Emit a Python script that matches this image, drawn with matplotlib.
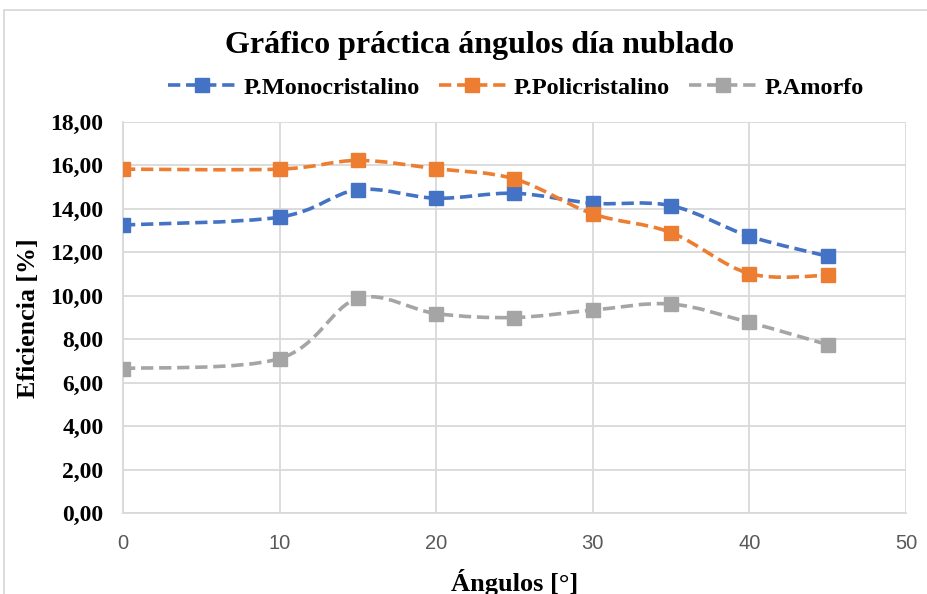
import numpy as np
import matplotlib
matplotlib.use("Agg")
import matplotlib.pyplot as plt
from matplotlib.path import Path
from matplotlib.patches import PathPatch, Rectangle
from matplotlib.lines import Line2D

angles = [0, 10, 15, 20, 25, 30, 35, 40, 45]
mono = [13.26, 13.62, 14.88, 14.49, 14.72, 14.26, 14.15, 12.74, 11.82]
poli = [15.83, 15.83, 16.23, 15.85, 15.38, 13.77, 12.91, 11.02, 10.94]
amorfo = [6.65, 7.11, 9.88, 9.18, 9.00, 9.34, 9.62, 8.77, 7.75]
series_names = ["P.Monocristalino", "P.Policristalino", "P.Amorfo"]
colors = ["#4472C4", "#ED7D31", "#A5A5A5"]

title = "Gráfico práctica ángulos día nublado"
xlabel = "Ángulos [°]"
ylabel = "Eficiencia [%]"

serif = ["Liberation Serif", "DejaVu Serif"]

fig = plt.figure(figsize=(9.28, 5.94), dpi=100)
ax = fig.add_axes([123/928, 1-513/594, (906-123)/928, (513-122)/594])

def smooth_path(x, y):
    x = np.asarray(x, float); y = np.asarray(y, float)
    n = len(x)
    verts = [(x[0], y[0])]
    codes = [Path.MOVETO]
    for i in range(n-1):
        i0 = max(i-1, 0); i3 = min(i+2, n-1)
        c1 = (x[i] + (x[i+1]-x[i0])/6, y[i] + (y[i+1]-y[i0])/6)
        c2 = (x[i+1] - (x[i3]-x[i])/6, y[i+1] - (y[i3]-y[i])/6)
        verts += [c1, c2, (x[i+1], y[i+1])]
        codes += [Path.CURVE4]*3
    return Path(verts, codes)

dash = (0, (3.4, 1.6))
handles = []
for vals, c, name in zip([mono, poli, amorfo], colors, series_names):
    p = PathPatch(smooth_path(angles, vals), facecolor="none", edgecolor=c,
                  lw=2.6, linestyle=dash, zorder=3, capstyle="butt")
    ax.add_patch(p)
    ax.plot(angles, vals, linestyle="none", marker="s", ms=10, color=c,
            mec=c, zorder=4)
    handles.append(Line2D([], [], color=c, lw=2.6, linestyle=dash, marker="s",
                          ms=10, mec=c))

ax.set_xlim(0, 50)
ax.set_ylim(0, 18)
ax.set_xticks(range(0, 51, 10))
ax.set_yticks(np.arange(0, 18.1, 2))
ax.set_yticklabels([f"{v:.2f}".replace(".", ",") for v in np.arange(0, 18.1, 2)],
                   fontfamily=serif, fontweight="bold", fontsize=17)
ax.set_xticklabels([str(v) for v in range(0, 51, 10)], fontfamily="Liberation Sans",
                   fontsize=14.5, color="#595959")
ax.tick_params(axis="both", length=0)
ax.tick_params(axis="y", pad=14)
ax.tick_params(axis="x", pad=15)
ax.grid(True, color="#D9D9D9", lw=1.3)
ax.set_axisbelow(True)
for s in ["top", "right"]:
    ax.spines[s].set_visible(False)
for s in ["left", "bottom"]:
    ax.spines[s].set_color("#D9D9D9")
    ax.spines[s].set_linewidth(1.3)

fig.text(515/928, 1-582/594, xlabel, ha="center", va="center", fontfamily=serif,
         fontweight="bold", fontsize=19)
fig.text(29/928, 1-318/594, ylabel, ha="center", va="center", rotation=90,
         fontfamily=serif, fontweight="bold", fontsize=18.7)
fig.text(0.517, 1-45/594, title, ha="center", va="center", fontfamily=serif,
         fontweight="bold", fontsize=23)
fig.legend(handles, series_names, loc="center", bbox_to_anchor=(0.556, 1-88/594),
           ncol=3, frameon=False, prop=dict(family=serif, weight="bold", size=17.5),
           handlelength=2.75, columnspacing=0.8, handletextpad=0.33)

fig.add_artist(Rectangle((4/928, -0.1), 1.2, 1-10/594+0.1, transform=fig.transFigure,
                         facecolor="none", edgecolor="#D9D9D9", lw=1.3))

fig.savefig("out.png", dpi=100)
